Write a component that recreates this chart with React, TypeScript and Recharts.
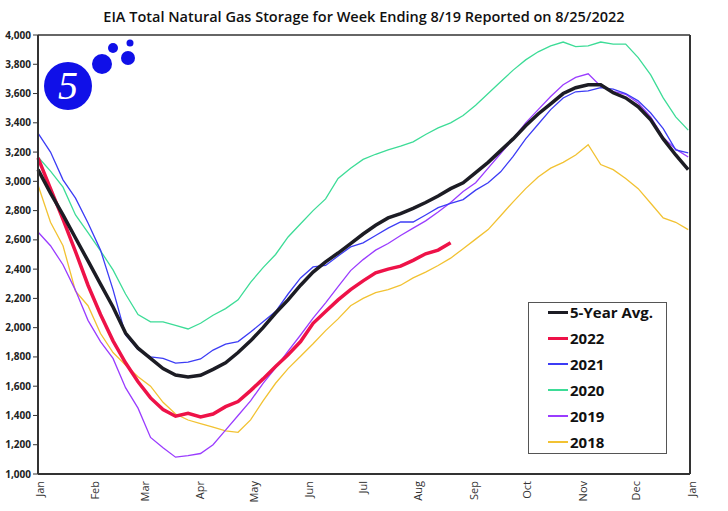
import { LineChart, Line, XAxis, YAxis, Legend, ReferenceLine } from "recharts";

// week start day-of-year
const weekDays = [
  0, 7, 14, 21, 28, 35, 42, 49, 56, 63, 70, 77, 84, 91, 98, 105, 112, 119, 126, 133, 140, 147, 154, 161, 168, 175,
  182, 189, 196, 203, 210, 217, 224, 231, 238, 245, 252, 259, 266, 273, 280, 287, 294, 301, 308, 315, 322, 329, 336,
  343, 350, 357, 364,
];

const avg5 = [
  3080, 2920, 2770, 2613, 2456, 2298, 2141, 1963, 1860, 1790, 1720, 1676, 1663, 1675, 1715, 1760, 1830, 1910, 2000,
  2100, 2190, 2290, 2380, 2450, 2510, 2575, 2640, 2700, 2750, 2780, 2815, 2855, 2900, 2950, 2990, 3060, 3130, 3210,
  3290, 3380, 3460, 3530, 3600, 3640, 3660, 3660, 3605, 3570, 3510, 3420, 3290, 3180, 3080,
];

const y2022 = [
  3160, 2950, 2740, 2520, 2290, 2090, 1910, 1760, 1630, 1520, 1440, 1395, 1415, 1390, 1410, 1460, 1495, 1570, 1650,
  1735, 1815, 1905, 2030, 2110, 2190, 2260, 2320, 2375, 2400, 2420, 2460, 2505, 2530, 2580,
];

const y2021 = [
  3330, 3200, 3010, 2885, 2715, 2530, 2260, 1950, 1850, 1800, 1790, 1758, 1765, 1786, 1847, 1888, 1905, 1970, 2040,
  2110, 2230, 2340, 2415, 2425, 2490, 2552, 2580, 2630, 2680, 2722, 2722, 2770, 2820, 2850, 2875, 2940, 2990, 3065,
  3170, 3290, 3390, 3490, 3570, 3612, 3618, 3640, 3630, 3600, 3550, 3467, 3360, 3215, 3195,
];

const y2020 = [
  3166, 3070, 2960, 2770, 2650, 2525, 2395, 2230, 2090, 2040, 2039, 2015, 1991, 2030, 2085, 2130, 2190, 2310, 2410,
  2500, 2620, 2710, 2800, 2880, 3020, 3090, 3150, 3185, 3215, 3240, 3270, 3320, 3365, 3400, 3450, 3520, 3600, 3680,
  3760, 3830, 3885, 3925, 3952, 3920, 3925, 3952, 3938, 3938, 3845, 3727, 3570, 3440, 3350,
];

const y2019 = [
  2654, 2560, 2430, 2255, 2050, 1905, 1790, 1590, 1450, 1250, 1180, 1115, 1125, 1140, 1200, 1300, 1400, 1500, 1620,
  1725, 1840, 1950, 2065, 2170, 2280, 2390, 2465, 2530, 2575, 2630, 2680, 2730, 2790, 2855, 2930, 2990, 3090, 3190,
  3290, 3400, 3490, 3580, 3660, 3710, 3735, 3650, 3615, 3595, 3535, 3440, 3300, 3220, 3166,
];

const y2018 = [
  2975, 2720, 2560, 2250, 2150, 1960, 1830, 1745, 1665, 1600, 1490, 1410, 1369, 1345, 1320, 1295, 1285, 1370, 1500,
  1620, 1720, 1805, 1890, 1980, 2060, 2150, 2200, 2240, 2260, 2290, 2340, 2380, 2425, 2475, 2540, 2605, 2670, 2765,
  2860, 2950, 3030, 3090, 3130, 3180, 3250, 3115, 3080, 3020, 2950, 2850, 2750, 2720, 2670,
];

const monthTicks = [0, 31, 59, 90, 120, 151, 181, 212, 243, 273, 304, 334, 365];
const monthLabels = ["Jan", "Feb", "Mar", "Apr", "May", "Jun", "Jul", "Aug", "Sep", "Oct", "Nov", "Dec", "Jan"];
const yTicks = [1000, 1200, 1400, 1600, 1800, 2000, 2200, 2400, 2600, 2800, 3000, 3200, 3400, 3600, 3800, 4000];

const data = weekDays.map((d, i) => ({
  day: d,
  avg5: avg5[i],
  y2022: y2022[i],
  y2021: y2021[i],
  y2020: y2020[i],
  y2019: y2019[i],
  y2018: y2018[i],
}));

const series = [
  { key: "avg5", name: "5-Year Avg.", color: "#1c1c24", width: 3.5 },
  { key: "y2022", name: "2022", color: "#ee1248", width: 3.5 },
  { key: "y2021", name: "2021", color: "#3c3cf5", width: 1.3 },
  { key: "y2020", name: "2020", color: "#3ddc97", width: 1.3 },
  { key: "y2019", name: "2019", color: "#9a3cff", width: 1.3 },
  { key: "y2018", name: "2018", color: "#f2c232", width: 1.3 },
];

const font = "'Open Sans', sans-serif";

const MonthTick = ({ x, y, payload }: any) => (
  <text
    transform={`translate(${x + 1},${y + 5}) rotate(-90)`}
    textAnchor="end"
    dominantBaseline="central"
    fontSize={11}
    fontFamily={font}
    fill="#333"
  >
    {monthLabels[monthTicks.indexOf(payload.value)]}
  </text>
);

const LegendBox = () => (
  <div
    style={{
      border: "1.5px solid #555",
      background: "#fff",
      width: 139,
      height: 152,
      boxSizing: "border-box",
      paddingTop: 0,
      fontFamily: font,
    }}
  >
    <div style={{ marginTop: -4 }}>
      {series.map((s) => (
        <div key={s.key} style={{ display: "flex", alignItems: "center", height: 26 }}>
          <div
            style={{ width: 20, height: s.width > 2 ? 3 : 2, background: s.color, marginLeft: 19, marginRight: 2 }}
          />
          <span style={{ fontSize: 15, fontWeight: "bold", color: "#111" }}>{s.name}</span>
        </div>
      ))}
    </div>
  </div>
);

const Logo = () => (
  <svg width={140} height={120} style={{ position: "absolute", left: 0, top: 0 }}>
    <circle cx={68} cy={86} r={24} fill="#1010e8" />
    <circle cx={102} cy={64} r={10} fill="#1010e8" />
    <circle cx={113} cy={48} r={5} fill="#1010e8" />
    <circle cx={128} cy={58} r={7} fill="#1010e8" />
    <circle cx={130} cy={43} r={3.5} fill="#1010e8" />
    <text
      x={68}
      y={99}
      textAnchor="middle"
      fontSize={40}
      fontStyle="italic"
      fontFamily="'Liberation Serif', serif"
      fill="#fff"
    >
      5
    </text>
  </svg>
);

export default function App() {
  return (
    <div style={{ position: "absolute", left: 0, top: 0, width: 728, height: 511, background: "#fff" }}>
      <div
        style={{
          position: "absolute",
          top: 7,
          left: 0,
          width: 728,
          textAlign: "center",
          fontFamily: font,
          fontSize: 14.5,
          fontWeight: 600,
          color: "#111",
        }}
      >
        EIA Total Natural Gas Storage for Week Ending 8/19 Reported on 8/25/2022
      </div>
      <LineChart width={728} height={511} data={data} margin={{ top: 35, right: 0, bottom: 0, left: 0 }}>
        <XAxis
          dataKey="day"
          type="number"
          domain={[0, 365]}
          ticks={monthTicks}
          tick={<MonthTick />}
          tickSize={0}
          height={37}
          axisLine={{ stroke: "#333", strokeWidth: 2 }}
          interval={0}
        />
        <YAxis
          yAxisId="left"
          domain={[1000, 4000]}
          ticks={yTicks}
          width={38}
          tickSize={5}
          tickLine={{ stroke: "#333" }}
          axisLine={{ stroke: "#333", strokeWidth: 2 }}
          tickFormatter={(v: number) => v.toLocaleString("en-US")}
          tick={{ fontSize: 10, fontFamily: font, fill: "#222", fontWeight: "bold" }}
          interval={0}
        />
        <YAxis
          yAxisId="right"
          orientation="right"
          domain={[1000, 4000]}
          ticks={yTicks}
          width={38}
          tickSize={5}
          tickLine={{ stroke: "#333" }}
          axisLine={{ stroke: "#333", strokeWidth: 2 }}
          tickFormatter={(v: number) => v.toLocaleString("en-US")}
          tick={{ fontSize: 10, fontFamily: font, fill: "#222", fontWeight: "bold" }}
          interval={0}
        />
        <ReferenceLine yAxisId="left" y={4000} stroke="#333" strokeWidth={1.5} />
        {[...series].reverse().map((s) => (
          <Line
            key={s.key}
            yAxisId="left"
            dataKey={s.key}
            name={s.name}
            stroke={s.color}
            strokeWidth={s.width}
            dot={false}
            activeDot={false}
            type="linear"
            isAnimationActive={false}
          />
        ))}
        <Legend
          layout="vertical"
          align="center"
          verticalAlign="middle"
          content={<LegendBox />}
          wrapperStyle={{ position: "absolute", left: 528, top: 302, width: 139, height: 152 }}
        />
      </LineChart>
      <Logo />
    </div>
  );
}
